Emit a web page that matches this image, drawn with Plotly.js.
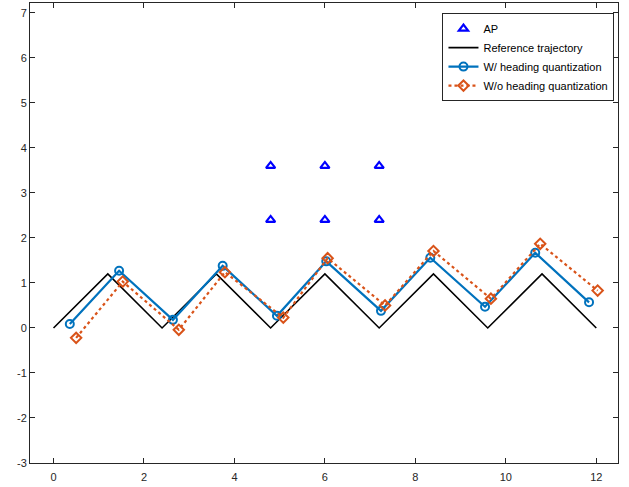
<!DOCTYPE html>
<html><head><meta charset="utf-8">
<script src="https://cdn.plot.ly/plotly-3.0.1.min.js"></script>
<style>html,body{margin:0;padding:0;background:#fff}#c{width:629px;height:487px}</style>
</head><body><div id="c"></div>
<script>
const apX = [4.8, 6, 7.2, 4.8, 6, 7.2];
const apY = [2.4, 2.4, 2.4, 3.6, 3.6, 3.6];
const refX = [0, 1.2, 2.4, 3.6, 4.8, 6, 7.2, 8.4, 9.6, 10.8, 12];
const refY = [0, 1.2, 0, 1.2, 0, 1.2, 0, 1.2, 0, 1.2, 0];
const wX = [0.36, 1.45, 2.64, 3.74, 4.94, 6.03, 7.24, 8.33, 9.54, 10.65, 11.84];
const wY = [0.09, 1.27, 0.18, 1.38, 0.27, 1.48, 0.38, 1.56, 0.47, 1.67, 0.57];
const woX = [0.50, 1.53, 2.77, 3.79, 5.08, 6.06, 7.33, 8.40, 9.67, 10.76, 12.03];
const woY = [-0.22, 1.03, -0.04, 1.24, 0.23, 1.55, 0.50, 1.71, 0.65, 1.87, 0.83];
const xTicks = [0, 2, 4, 6, 8, 10, 12];
const yTicks = [-3, -2, -1, 0, 1, 2, 3, 4, 5, 6, 7];
const xTickText = ['0', '2', '4', '6', '8', '10', '12'];
const yTickText = ['-3', '-2', '-1', '0', '1', '2', '3', '4', '5', '6', '7'];

const traces = [
  {x: apX, y: apY, name: 'AP', mode: 'markers', type: 'scatter',
   marker: {symbol: 'triangle-up-open', size: 8, color: '#0000FF', line: {width: 2.2, color: '#0000FF'}}},
  {x: refX, y: refY, name: 'Reference trajectory', mode: 'lines', type: 'scatter',
   line: {color: '#000000', width: 1.6}},
  {x: wX, y: wY, name: 'W/ heading quantization', mode: 'lines+markers', type: 'scatter',
   line: {color: '#0072BD', width: 2.2},
   marker: {symbol: 'circle-open', size: 8, color: '#0072BD', line: {width: 2, color: '#0072BD'}}},
  {x: woX, y: woY, name: 'W/o heading quantization', mode: 'lines+markers', type: 'scatter',
   line: {color: '#D95319', width: 2.2, dash: 'dot'},
   marker: {symbol: 'diamond-open', size: 8, color: '#D95319', line: {width: 2, color: '#D95319'}}}
];

const axisCommon = {
  showgrid: false, zeroline: false, showline: true, linecolor: '#262626', linewidth: 1,
  mirror: 'ticks', ticks: 'inside', ticklen: 5, tickcolor: '#262626', tickwidth: 1,
  tickfont: {family: 'Liberation Sans, Arial, sans-serif', size: 11, color: '#262626'}
};

const layout = {
  width: 629, height: 487,
  margin: {l: 30, r: 11, t: 3, b: 24},
  paper_bgcolor: '#ffffff', plot_bgcolor: '#ffffff',
  showlegend: true,
  xaxis: Object.assign({range: [-0.52, 12.48], tickmode: 'array', tickvals: xTicks, ticktext: xTickText, ticklabelstandoff: 4}, axisCommon),
  yaxis: Object.assign({range: [-3, 7.22], tickmode: 'array', tickvals: yTicks, ticktext: yTickText}, axisCommon),
  legend: {x: 0.994, y: 0.978, xanchor: 'right', yanchor: 'top',
    bgcolor: '#ffffff', bordercolor: '#262626', borderwidth: 1,
    font: {family: 'Liberation Sans, Arial, sans-serif', size: 11, color: '#000'},
    tracegroupgap: 0, itemwidth: 30}
};

Plotly.newPlot('c', traces, layout, {displayModeBar: false, staticPlot: true});
</script>
</body></html>
